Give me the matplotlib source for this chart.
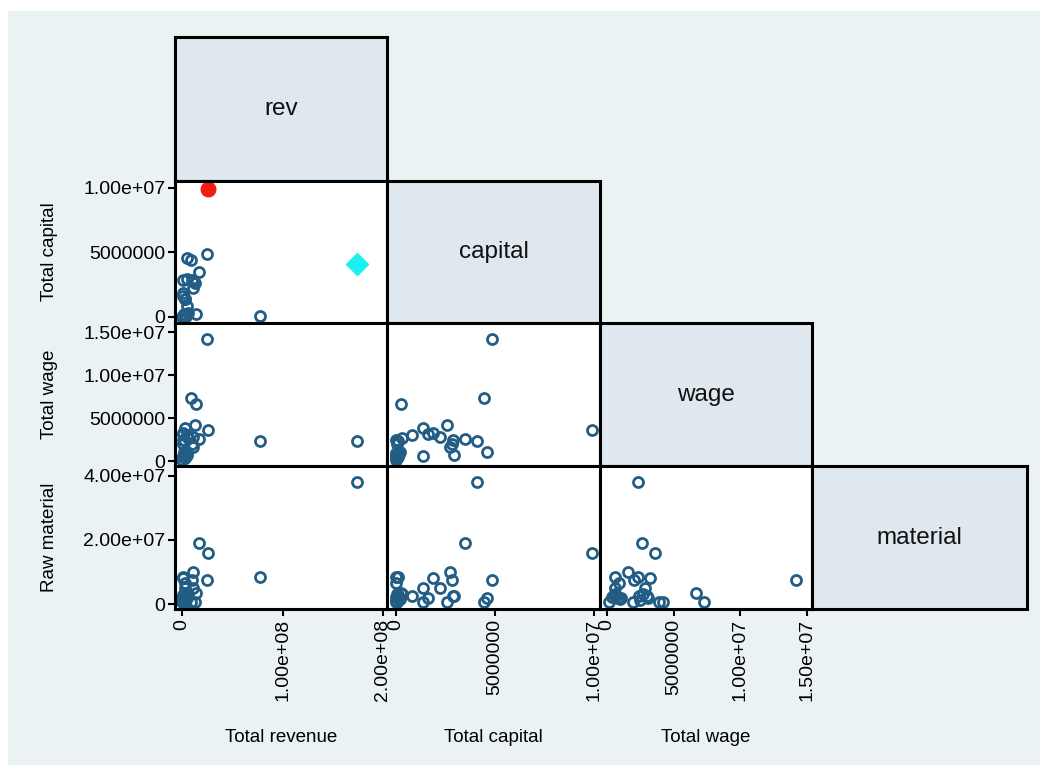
import numpy as np
import matplotlib.pyplot as plt
from matplotlib.patches import Rectangle

# firm level data, values in millions
rev_m = [24.5, 8.5, 14.0, 26.0, 174.0, 16.5, 77.5, 5.3, 11.0, 9.6,
         0.8, 13.0, 3.0, 4.6, 1.0, 10.5, 1.3, 2.5, 4.6, 6.0,
         2.0, 1.0, 3.0, 0.5, 0.2, 0.5, 2.0, 4.0, 1.5, 3.0]
capital_m = [4.85, 4.45, 0.25, 9.9, 4.1, 3.5, 0.1, 4.6, 2.75, 2.85,
             1.88, 2.6, 1.36, 0.83, 1.61, 2.24, 2.9, 1.36, 2.95, 0.3,
             0.0, 0.05, 0.03, 0.03, 0.0, 0.1, 0.15, 0.05, 0.2, 0.0]
wage_m = [14.2, 7.3, 6.7, 3.6, 2.3, 2.6, 2.3, 1.05, 1.6, 2.0,
          3.25, 4.2, 3.9, 3.0, 3.1, 2.85, 2.4, 0.6, 0.7, 2.7,
          2.46, 1.95, 0.9, 0.6, 0.15, 0.5, 0.8, 0.6, 1.0, 0.4]
material_m = [7.5, 0.6, 3.3, 15.8, 38.2, 19.2, 8.3, 1.8, 10.1, 7.5,
              8.2, 0.7, 0.7, 2.5, 1.8, 5.0, 2.6, 5.1, 2.4, 3.2,
              1.2, 0.7, 6.7, 8.5, 0.7, 2.8, 2.0, 3.0, 1.5, 2.2]

# the two firms marked separately in the capital / revenue panel
red_firm = 3
cyan_firm = 4

var_names = ["rev", "capital", "wage", "material"]
var_titles = ["Total revenue", "Total capital", "Total wage", "Raw material"]
tick_vals = [[0, 1e8, 2e8],
             [0, 5e6, 1e7],
             [0, 5e6, 1e7, 1.5e7],
             [0, 2e7, 4e7]]
tick_text = [["0", "1.00e+08", "2.00e+08"],
             ["0", "5000000", "1.00e+07"],
             ["0", "5000000", "1.00e+07", "1.50e+07"],
             ["0", "2.00e+07", "4.00e+07"]]
x_lims = [(-7e6, 2.04e8), (-0.43e6, 10.28e6), (-0.53e6, 15.4e6)]
y_lims = [None, (-0.47e6, 10.54e6), (-0.58e6, 16.1e6), (-1.56e6, 43.1e6)]

data = [np.array(v) * 1e6 for v in (rev_m, capital_m, wage_m, material_m)]

W, H = 1048, 773
fig = plt.figure(figsize=(W / 100, H / 100), dpi=100)
fig.patch.set_facecolor("white")
plt.rcParams["font.family"] = ["Liberation Sans", "DejaVu Sans"]

# light plot region behind everything
fig.patches.append(Rectangle((8 / W, 1 - 765 / H), 1032 / W, 754 / H,
                             transform=fig.transFigure, facecolor="#eaf2f3",
                             edgecolor="none", zorder=-10))

col_edges = [175, 387, 600, 812, 1027]
row_edges = [37, 181, 323, 466, 609]

navy = "#215d84"
tick_fs = 14
ms, mew = 7.2, 2.0


def px_axes(c, r):
    x0, x1 = col_edges[c], col_edges[c + 1]
    y0, y1 = row_edges[r], row_edges[r + 1]
    return fig.add_axes([x0 / W, 1 - y1 / H, (x1 - x0) / W, (y1 - y0) / H])


for r in range(4):
    for c in range(r + 1):
        ax = px_axes(c, r)
        for s in ax.spines.values():
            s.set_linewidth(2.2)
            s.set_color("black")
        if r == c:
            ax.set_facecolor("#dfe8ee")
            ax.set_xticks([])
            ax.set_yticks([])
            ax.text(0.5, 0.5, var_names[r], ha="center", va="center",
                    fontsize=17.5, color="#111111", transform=ax.transAxes)
            continue

        ax.set_facecolor("white")
        xs, ys = data[c], data[r]
        if r == 1 and c == 0:
            keep = [i for i in range(len(xs)) if i not in (red_firm, cyan_firm)]
            ax.plot(xs[keep], ys[keep], "o", mfc="none", mec=navy, ms=ms, mew=mew)
            ax.plot(xs[red_firm], ys[red_firm], "o", color="#f21d10", ms=10.5)
            ax.plot(xs[cyan_firm], ys[cyan_firm], "D", color="#1ef0f0", ms=11)
        else:
            ax.plot(xs, ys, "o", mfc="none", mec=navy, ms=ms, mew=mew)

        ax.set_xlim(*x_lims[c])
        ax.set_ylim(*y_lims[r])
        ax.tick_params(direction="out", length=5, width=1.5, labelsize=tick_fs,
                       colors="black", pad=2)

        if c == 0:
            ax.set_yticks(tick_vals[r])
            ax.set_yticklabels(tick_text[r])
        else:
            ax.set_yticks([])
        if r == 3:
            ax.set_xticks(tick_vals[c])
            ax.set_xticklabels(tick_text[c], rotation=90)
        else:
            ax.set_xticks([])

# axis titles
for r in range(1, 4):
    yc = (row_edges[r] + row_edges[r + 1]) / 2
    fig.text(50 / W, 1 - yc / H, var_titles[r], rotation=90, ha="center",
             va="center", fontsize=13.5)
for c in range(3):
    xc = (col_edges[c] + col_edges[c + 1]) / 2
    fig.text(xc / W, 1 - 738 / H, var_titles[c], ha="center", va="center",
             fontsize=13.5)

fig.savefig("out.png", dpi=100)
